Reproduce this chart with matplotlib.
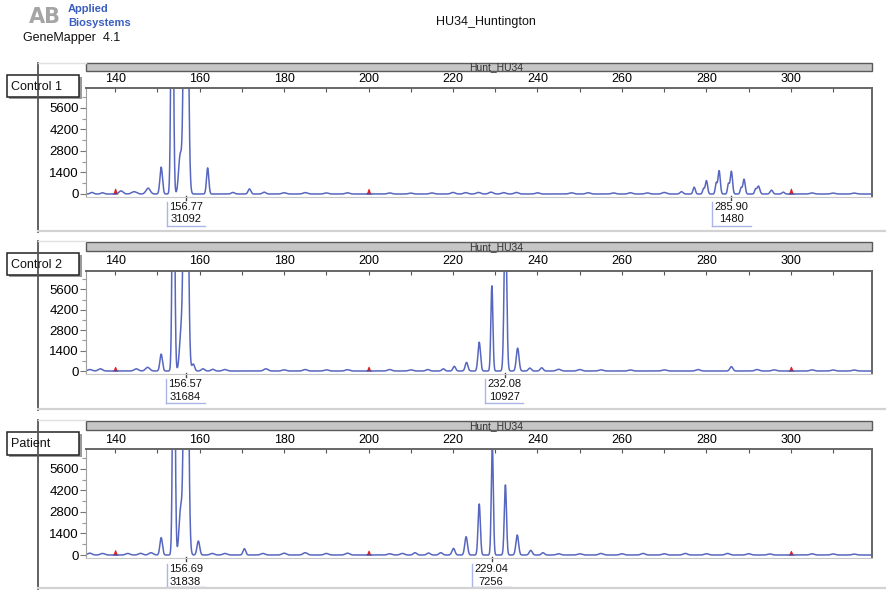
import numpy as np
import matplotlib
matplotlib.use("Agg")
import matplotlib.pyplot as plt
from matplotlib.patches import Rectangle
from matplotlib.lines import Line2D
from matplotlib.transforms import blended_transform_factory
from matplotlib.ticker import MultipleLocator, FixedLocator

plt.rcParams['font.family'] = ['Liberation Sans', 'DejaVu Sans']

# ---------------- data ----------------
title = "HU34_Huntington"
marker_name = "Hunt_HU34"
panel_names = ["Control 1", "Control 2", "Patient"]
x_tick_labels = [140, 160, 180, 200, 220, 240, 260, 280, 300]
y_tick_labels = [0, 1400, 2800, 4200, 5600]

# sample peaks (size in bp, height in RFU, width)
c1_pos = [134.5, 137.0, 141.4, 144.5, 147.8, 150.9, 153.5, 155.4, 156.77, 161.9,
          167.9, 171.8, 175.3, 180, 185, 190, 195, 205, 210, 215, 220, 223, 226,
          229, 232, 235, 240, 248, 252, 258, 262, 266, 270, 274.1, 277.1, 279.3,
          280.0, 282.3, 283.0, 285.2, 285.9, 288.2, 288.9, 291.6, 292.3, 295.4,
          298.2, 305, 310, 315]
c1_h = [100, 80, 200, 150, 380, 1750, 20000, 2500, 31092, 1700,
        100, 330, 120, 80, 90, 70, 80, 70, 60, 70, 100, 90, 100,
        120, 90, 100, 80, 80, 80, 70, 80, 70, 100, 150, 440, 350,
        870, 700, 1520, 650, 1480, 400, 960, 300, 520, 250,
        120, 70, 60, 60]
c1_w = [0.4, 0.4, 0.5, 0.6, 0.5, 0.3, 0.27, 0.38, 0.42, 0.27,
        0.4, 0.32, 0.4, 0.5, 0.5, 0.5, 0.5, 0.5, 0.5, 0.5, 0.5, 0.5, 0.5,
        0.5, 0.5, 0.5, 0.5, 0.5, 0.5, 0.5, 0.5, 0.5, 0.5, 0.35, 0.27, 0.22,
        0.27, 0.22, 0.27, 0.22, 0.27, 0.22, 0.27, 0.22, 0.32, 0.32,
        0.3, 0.5, 0.5, 0.5]

c2_pos = [134.0, 136.5, 145.0, 147.7, 150.9, 153.8, 155.6, 156.75, 158.5, 160.8,
          163.1, 166, 175.7, 180, 185, 190, 195, 205, 210, 214, 217.7, 220.3,
          223.2, 226.2, 229.2, 232.4, 235.3, 238.2, 241.0, 245, 250, 255, 262,
          270, 278, 285.9, 292, 296, 305, 310, 315]
c2_h = [100, 150, 150, 250, 1160, 20000, 2480, 31684, 480, 150,
        120, 100, 150, 80, 100, 80, 90, 100, 80, 100, 150, 320,
        590, 1980, 5850, 10927, 1570, 200, 220, 120, 100, 80, 70,
        80, 100, 300, 100, 80, 80, 70, 70]
c2_w = [0.5, 0.5, 0.5, 0.5, 0.3, 0.27, 0.38, 0.42, 0.32, 0.4,
        0.4, 0.5, 0.5, 0.5, 0.5, 0.5, 0.5, 0.5, 0.5, 0.4, 0.35, 0.32,
        0.32, 0.3, 0.24, 0.3, 0.32, 0.35, 0.35, 0.5, 0.5, 0.5, 0.5,
        0.5, 0.5, 0.35, 0.5, 0.5, 0.5, 0.5, 0.5]

c3_pos = [134.0, 137.0, 143.0, 146.0, 148.5, 150.9, 153.9, 155.5, 156.8, 159.7,
          163, 166, 170.6, 175, 180, 185, 190, 195, 205, 208, 211, 214.2,
          217.1, 220.1, 223.1, 226.2, 229.3, 232.4, 235.2, 238.4, 241.3, 245,
          250, 255, 260, 265, 270, 275, 280, 285, 290, 295, 305, 310, 315]
c3_h = [120, 100, 100, 110, 150, 1130, 20000, 2900, 31838, 910,
        100, 100, 410, 100, 120, 150, 100, 120, 80, 100, 150, 130,
        150, 430, 1190, 3320, 7256, 4560, 1300, 300, 150, 80,
        80, 100, 80, 100, 80, 100, 80, 100, 80, 70, 80, 70, 60]
c3_w = [0.5, 0.5, 0.5, 0.5, 0.5, 0.3, 0.27, 0.38, 0.42, 0.32,
        0.5, 0.5, 0.32, 0.5, 0.5, 0.5, 0.5, 0.5, 0.5, 0.5, 0.4, 0.4,
        0.4, 0.35, 0.32, 0.27, 0.24, 0.26, 0.32, 0.35, 0.35, 0.5,
        0.5, 0.5, 0.5, 0.5, 0.5, 0.5, 0.5, 0.5, 0.5, 0.5, 0.5, 0.5, 0.5]

# size-standard (red) peaks
std_pos = [140, 200, 300]
std_h = [[390, 370, 390], [320, 330, 330], [350, 320, 300]]

# allele calls: size and height
c1_call_size = [156.77, 285.90]
c1_call_h = [31092, 1480]
c2_call_size = [156.57, 232.08]
c2_call_h = [31684, 10927]
c3_call_size = [156.69, 229.04]
c3_call_h = [31838, 7256]
call_peak_pos = [[156.77, 285.9], [156.75, 232.4], [156.8, 229.3]]

samples = [(c1_pos, c1_h, c1_w), (c2_pos, c2_h, c2_w), (c3_pos, c3_h, c3_w)]
calls = [(c1_call_size, c1_call_h), (c2_call_size, c2_call_h), (c3_call_size, c3_call_h)]

# ---------------- layout (pixels) ----------------
W, H = 887, 591
fig = plt.figure(figsize=(W / 100, H / 100), dpi=100)


def fx(px):
    return px / W


def fy(py):
    return 1 - py / H


geom = [
    dict(ptop=63, bar=(63, 71), top=88, base=194, bottom=230, box=(75, 97), ann=(207, 219), abox=(202, 226)),
    dict(ptop=241, bar=(242, 251), top=270.5, base=371, bottom=408, box=(253, 275), ann=(384, 397), abox=(379, 403)),
    dict(ptop=420, bar=(421, 430), top=449, base=555, bottom=587, box=(432, 455), ann=(569, 582), abox=(564, 587)),
]
XL, XR = 86, 872
ymin, ymax = -200, 6900
xgrid = np.arange(133.0, 319.5, 0.02)
line_col = '#3a4cb4'

# header: logo, program, title
fig.text(fx(29), fy(17), "AB", fontsize=15, fontweight='bold', color='#a5a5a5',
         ha='left', va='center', family=['DejaVu Sans'])
fig.text(fx(68), fy(9.5), "Applied", fontsize=8, fontweight='bold', color='#3b5fc0',
         ha='left', va='center')
fig.text(fx(68), fy(22.5), "Biosystems", fontsize=8, fontweight='bold', color='#3b5fc0',
         ha='left', va='center')
fig.text(fx(23), fy(37.5), "GeneMapper  4.1", fontsize=9, ha='left', va='center', color='#111')
fig.text(fx(486), fy(22), title, fontsize=9, ha='center', va='center', color='#111')

for i, g in enumerate(geom):
    pos, hts, wid = samples[i]
    top, base = g['top'], g['base']
    bottom_px = base + (base - top) * (-ymin) / ymax
    ax = fig.add_axes([fx(XL), fy(bottom_px), fx(XR) - fx(XL), fy(top) - fy(bottom_px)])
    ax.set_xlim(133.1, 319.2)
    ax.set_ylim(ymin, ymax)

    y = np.zeros_like(xgrid)
    for p, h, w in zip(pos, hts, wid):
        y += h * np.exp(-0.5 * ((xgrid - p) / w) ** 2)
    ax.plot(xgrid, y, color=line_col, lw=1.1, alpha=0.85, solid_joinstyle='round')

    for p, h in zip(std_pos, std_h[i]):
        ys = h * np.exp(-0.5 * ((xgrid - p) / 0.27) ** 2)
        m = ys > 5
        ax.fill_between(xgrid[m], 0, ys[m], color='#e32020', lw=0)

    # spines
    for s in ['top', 'right']:
        ax.spines[s].set_color('#666666')
        ax.spines[s].set_linewidth(1.4)
    ax.spines['left'].set_color('#a0a0a0')
    ax.spines['left'].set_linewidth(0.8)
    ax.spines['bottom'].set_color('#c8c8c8')
    ax.spines['bottom'].set_linewidth(0.8)

    ax.xaxis.tick_top()
    ax.xaxis.set_major_locator(FixedLocator(x_tick_labels))
    ax.xaxis.set_minor_locator(MultipleLocator(10))
    ax.tick_params(axis='x', which='both', direction='in', length=3, width=0.8,
                   color='#555555', labelsize=9, pad=2.5, top=True, bottom=False)
    ax.set_yticks(y_tick_labels)
    ax.yaxis.set_minor_locator(FixedLocator(np.arange(700, 6900, 1400)))
    ax.tick_params(axis='y', which='major', direction='out', length=4, width=0.8,
                   color='#777777', labelsize=9.5, pad=1)
    ax.tick_params(axis='y', which='minor', direction='out', length=3, width=0.8,
                   color='#999999')

    # header bar
    b0, b1 = g['bar']
    fig.patches.append(Rectangle((fx(XL), fy(b1)), fx(XR) - fx(XL), fy(b0) - fy(b1),
                                 transform=fig.transFigure, facecolor='#c6c6c6',
                                 edgecolor='#5a5a5a', lw=1.0))
    fig.text(fx(496), fy((b0 + b1) / 2 + 0.5), marker_name, fontsize=7.5, ha='center',
             va='center', color='#333')

    # panel frame
    fig.add_artist(Line2D([fx(38), fx(38)], [fy(g['ptop']), fy(g['bottom'] + 2)],
                          color='#555555', lw=1.3))
    fig.add_artist(Line2D([fx(38), fx(887)], [fy(g['bottom'] + 1), fy(g['bottom'] + 1)],
                          color='#d2d2d2', lw=1.6))
    fig.add_artist(Line2D([fx(38), fx(XL)], [fy(g['ptop']), fy(g['ptop'])],
                          color='#e0e0e0', lw=1.0))

    # label box with shadow
    y0, y1 = g['box']
    fig.patches.append(Rectangle((fx(9), fy(y1 + 2)), fx(73), fy(y0) - fy(y1),
                                 transform=fig.transFigure, facecolor='#9a9a9a',
                                 edgecolor='none'))
    fig.patches.append(Rectangle((fx(7), fy(y1)), fx(72), fy(y0) - fy(y1),
                                 transform=fig.transFigure, facecolor='white',
                                 edgecolor='#222222', lw=1.1))
    fig.text(fx(11), fy((y0 + y1) / 2 + 0.5), panel_names[i], fontsize=9, ha='left',
             va='center', color='#111')

    # allele call annotations
    tr = blended_transform_factory(ax.transData, fig.transFigure)
    csz, chh = calls[i]
    a0, a1 = g['ann']
    bb0, bb1 = g['abox']
    for s, hv, pp in zip(csz, chh, call_peak_pos[i]):
        ax.text(s, fy(a0), f"{s:.2f}", transform=tr, fontsize=8, ha='center',
                va='center', color='#111', clip_on=False)
        ax.text(s, fy(a1), f"{hv}", transform=tr, fontsize=8, ha='center',
                va='center', color='#111', clip_on=False)
        ax.add_line(Line2D([s - 4.5, s - 4.5], [fy(bb0), fy(bb1)], transform=tr,
                           color='#aab4e6', lw=1.0, clip_on=False))
        ax.add_line(Line2D([s - 4.5, s + 4.6], [fy(bb1), fy(bb1)], transform=tr,
                           color='#aab4e6', lw=1.0, clip_on=False))
        ax.add_line(Line2D([pp, pp], [fy(base + 2), fy(base + 6)], transform=tr,
                           color='#444444', lw=1.0, clip_on=False))

fig.savefig("out.png", dpi=100)
